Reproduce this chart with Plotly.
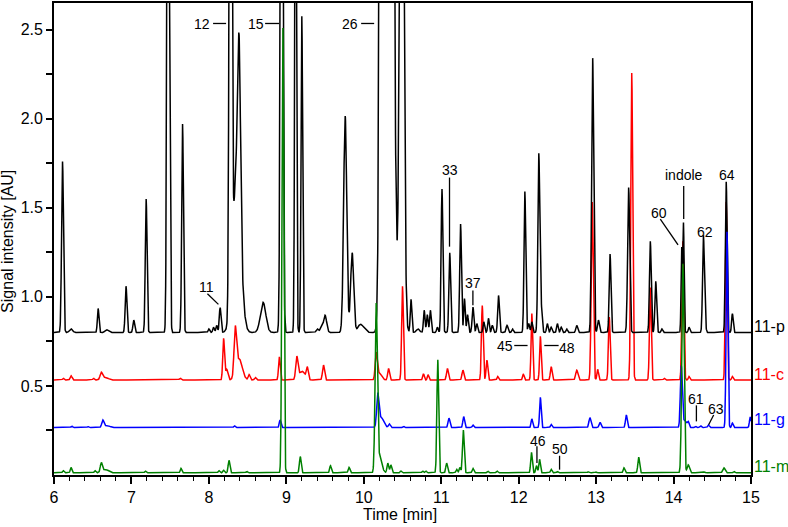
import numpy as np
import plotly.graph_objects as go

# peak tables: retention time [min], height above baseline [AU], peak sigma [min]
p_rt = [6.11, 6.22, 6.57, 6.68, 6.93, 7.03, 7.19, 7.47, 7.495, 7.66, 8.00, 8.06, 8.10, 8.145,
        8.28, 8.36, 8.39, 8.70, 8.94, 9.12, 9.20, 9.40, 9.45, 9.50, 9.76, 9.85, 9.95, 10.0,
        10.24, 10.34, 10.49, 10.61, 10.70, 10.78, 10.82, 10.86, 10.95, 11.01, 11.11, 11.25,
        11.30, 11.34, 11.41, 11.46, 11.55, 11.61, 11.66, 11.74, 11.85, 11.92, 12.08, 12.13,
        12.17, 12.26, 12.29, 12.37, 12.42, 12.50, 12.55, 12.62, 12.75, 12.955, 13.03, 13.18,
        13.42, 13.70, 13.77, 13.85, 14.105, 14.128, 14.20, 14.385, 14.405, 14.68, 14.76]
p_h = [0.96, 0.02, 0.135, 0.015, 0.26, 0.07, 0.75, 4.0, 1.1, 1.17, 0.02, 0.03, 0.04, 0.14,
       6.0, 0.9, 0.92, 0.17, 6.0, 4.0, 1.775, 0.02, 0.03, 0.097, 1.215, 0.447, 0.04, 0.02,
       8.0, 8.0, 4.0, 0.186, 0.02, 0.125, 0.10, 0.125, 0.03, 0.805, 0.447, 0.609,
       0.19, 0.10, 0.143, 0.05, 0.06, 0.08, 0.04, 0.208, 0.04, 0.02, 0.792, 0.05,
       0.06, 1.00, 0.15, 0.05, 0.03, 0.05, 0.03, 0.02, 0.04, 1.545, 0.07, 0.44,
       0.814, 0.512, 0.287, 0.02, 0.47, 0.61, 0.03, 0.531, 0.10, 0.846, 0.106]
p_w = [0.012, 0.02, 0.010, 0.02, 0.011, 0.011, 0.011, 0.012, 0.009, 0.011, 0.01, 0.01, 0.01, 0.011,
       0.014, 0.05, 0.018, 0.035, 0.014, 0.010, 0.010, 0.015, 0.015, 0.02, 0.02, 0.02, 0.03, 0.03,
       0.025, 0.035, 0.025, 0.010, 0.02, 0.01, 0.01, 0.01, 0.01, 0.011, 0.011, 0.011,
       0.01, 0.01, 0.011, 0.01, 0.01, 0.01, 0.01, 0.011, 0.012, 0.01, 0.011, 0.01,
       0.01, 0.012, 0.012, 0.01, 0.01, 0.01, 0.01, 0.01, 0.012, 0.013, 0.012, 0.011,
       0.013, 0.011, 0.011, 0.01, 0.008, 0.008, 0.01, 0.011, 0.01, 0.011, 0.01]

c_rt = [6.12, 6.22, 6.51, 6.61, 6.66, 7.63, 8.19, 8.23, 8.34, 8.39, 8.52, 8.60, 8.91, 9.135,
        9.20, 9.27, 9.48, 10.16, 10.20, 10.32, 10.50, 10.77, 10.83, 11.08, 11.28, 11.53, 11.59,
        11.73, 12.06, 12.17, 12.28, 12.42, 12.75, 12.95, 13.02, 13.17, 13.46, 13.70, 13.88,
        14.12, 14.20, 14.68, 14.76]
c_h = [0.01, 0.024, 0.01, 0.037, 0.015, 0.01, 0.233, 0.06, 0.25, 0.12, 0.03, 0.015, 0.13, 0.121,
       0.05, 0.065, 0.084, 0.14, 0.04, 0.065, 0.526, 0.035, 0.03, 0.065, 0.056, 0.419, 0.112,
       0.02, 0.034, 0.373, 0.246, 0.075, 0.056, 1.0, 0.06, 0.354, 1.724, 0.52, 0.01,
       0.78, 0.02, 1.0, 0.02]
c_w = [0.01, 0.012, 0.01, 0.015, 0.04, 0.012, 0.011, 0.015, 0.015, 0.04, 0.012, 0.012, 0.011, 0.014,
       0.04, 0.012, 0.013, 0.013, 0.03, 0.012, 0.011, 0.01, 0.01, 0.012, 0.012, 0.011, 0.011,
       0.01, 0.01, 0.01, 0.01, 0.011, 0.014, 0.013, 0.01, 0.011, 0.012, 0.011, 0.01,
       0.012, 0.01, 0.011, 0.01]

g_rt = [6.23, 6.44, 6.63, 6.68, 8.33, 8.92, 10.18, 10.22, 10.33, 10.51, 11.10, 11.29, 11.41,
        12.17, 12.28, 12.42, 12.92, 13.05, 13.39, 14.10, 14.14, 14.19, 14.28, 14.35, 14.45,
        14.69, 14.76, 14.99]
g_h = [0.008, 0.006, 0.038, 0.012, 0.01, 0.043, 0.165, 0.06, 0.02, 0.008, 0.053, 0.062, 0.014,
       0.049, 0.17, 0.018, 0.056, 0.03, 0.071, 0.332, 0.04, 0.025, 0.008, 0.01, 0.015,
       1.10, 0.025, 0.06]
g_w = [0.01, 0.01, 0.013, 0.04, 0.01, 0.011, 0.013, 0.035, 0.012, 0.01, 0.012, 0.011, 0.01,
       0.01, 0.01, 0.01, 0.013, 0.012, 0.011, 0.012, 0.03, 0.01, 0.01, 0.01, 0.01,
       0.011, 0.01, 0.01]

m_rt = [6.12, 6.22, 6.53, 6.61, 6.66, 7.18, 7.64, 8.13, 8.19, 8.26, 8.49, 8.955, 9.18, 9.57,
        9.81, 10.16, 10.20, 10.31, 10.35, 10.48, 10.76, 10.80, 10.955, 11.07, 11.20, 11.24,
        11.285, 11.41, 11.60, 11.72, 12.165, 12.23, 12.27, 12.42, 12.50, 12.90, 13.00, 13.36,
        13.55, 14.12, 14.19, 14.40, 14.65, 14.78]
m_h = [0.012, 0.03, 0.012, 0.05, 0.02, 0.01, 0.025, 0.012, 0.015, 0.07, 0.008, 2.506, 0.092, 0.04,
       0.031, 0.913, 0.1, 0.055, 0.045, 0.01, 0.01, 0.01, 0.637, 0.055, 0.02, 0.03,
       0.241, 0.025, 0.01, 0.01, 0.116, 0.04, 0.076, 0.02, 0.008, 0.006, 0.005, 0.028,
       0.088, 1.174, 0.045, 0.005, 0.028, 0.008]
m_w = [0.01, 0.01, 0.01, 0.012, 0.04, 0.01, 0.01, 0.01, 0.01, 0.011, 0.01, 0.012, 0.011, 0.011,
       0.011, 0.014, 0.03, 0.011, 0.011, 0.01, 0.01, 0.01, 0.011, 0.011, 0.01, 0.01,
       0.011, 0.011, 0.01, 0.01, 0.01, 0.01, 0.01, 0.01, 0.01, 0.01, 0.01, 0.011,
       0.011, 0.014, 0.015, 0.01, 0.015, 0.01]

names = ["11-c", "11-p", "11-g", "11-m"]
baselines = [0.533, 0.80, 0.266, 0.012]
colors = ["#ff0000", "#000000", "#0000ff", "#008000"]
tables = [(c_rt, c_h, c_w), (p_rt, p_h, p_w), (g_rt, g_h, g_w), (m_rt, m_h, m_w)]

t = np.arange(6.0, 15.0001, 0.002)


def chromatogram(rt, h, w, base):
    y = np.full_like(t, base)
    for r, a, s in zip(rt, h, w):
        y += a * np.exp(-0.5 * ((t - r) / s) ** 2)
    return y


fig = go.Figure()
for name, base, col, (rt, h, w) in zip(names, baselines, colors, tables):
    fig.add_trace(go.Scatter(x=t, y=chromatogram(rt, h, w, base), mode="lines", name=name,
                             line=dict(color=col, width=1.5), showlegend=False))

# peak labels: text, x, y
lab_text = ["12", "15", "26", "11", "33", "37", "45", "48", "46", "50", "60", "indole", "62", "64", "61", "63"]
lab_x = [7.912, 8.61, 9.824, 7.964, 11.112, 11.413, 11.827, 12.628, 12.244, 12.533, 13.817, 14.14, 14.407, 14.691, 14.295, 14.553]
lab_y = [2.53, 2.53, 2.53, 1.053, 1.711, 1.077, 0.725, 0.712, 0.192, 0.147, 1.471, 1.685, 1.362, 1.685, 0.425, 0.369]
# leader lines: x0, y0, x1, y1
lead = [(8.054, 2.535, 8.222, 2.535), (8.726, 2.535, 8.907, 2.535), (9.966, 2.535, 10.134, 2.535),
        (7.981, 1.018, 8.123, 0.958), (11.107, 1.670, 11.107, 1.282), (11.409, 1.036, 11.409, 0.953),
        (11.943, 0.727, 12.115, 0.727), (12.331, 0.727, 12.516, 0.727), (12.236, 0.161, 12.236, 0.068),
        (12.528, 0.108, 12.528, 0.030), (13.829, 1.437, 14.058, 1.292), (14.131, 1.623, 14.131, 1.437),
        (14.295, 0.391, 14.295, 0.301), (14.518, 0.337, 14.453, 0.282)]

for s, x, y in zip(lab_text, lab_x, lab_y):
    fig.add_annotation(x=x, y=y, text=s, showarrow=False, xanchor="center", yanchor="middle",
                       font=dict(size=14, color="black"))
for x0, y0, x1, y1 in lead:
    fig.add_shape(type="line", x0=x0, y0=y0, x1=x1, y1=y1, line=dict(color="black", width=1.3))

trace_lab_y = [0.567, 0.835, 0.309, 0.046]
for name, col, y in zip(names, colors, trace_lab_y):
    fig.add_annotation(x=1.002, xref="paper", y=y, yref="y", text=name, showarrow=False,
                       xanchor="left", yanchor="middle", font=dict(size=16, color=col))

fig.add_annotation(x=0.497, y=-0.084, xref="paper", yref="paper", text="Time [min]",
                   showarrow=False, xanchor="center", yanchor="middle", font=dict(size=16))
fig.add_annotation(x=-0.066, y=0.496, xref="paper", yref="paper", text="Signal intensity [AU]",
                   showarrow=False, textangle=-90, xanchor="center", yanchor="middle",
                   font=dict(size=16))

ytv = [0.25, 0.5, 0.75, 1.0, 1.25, 1.5, 1.75, 2.0, 2.25, 2.5]
ytt = ["", "0.5", "", "1.0", "", "1.5", "", "2.0", "", "2.5"]

fig.update_layout(
    width=788, height=527,
    margin=dict(l=54, r=37, t=1, b=52),
    plot_bgcolor="white", paper_bgcolor="white",
    font=dict(family="Liberation Sans, Arial, sans-serif", size=16, color="black"),
    xaxis=dict(range=[6, 15], tick0=6, dtick=1, ticks="outside", ticklen=7, tickwidth=1.5,
               tickcolor="black", showline=True, linecolor="black", linewidth=1.8, mirror=True,
               showgrid=False, zeroline=False, tickfont=dict(size=16),
               minor=dict(dtick=0.2, ticks="outside", ticklen=4, tickwidth=1.2, tickcolor="black")),
    yaxis=dict(range=[0, 2.65], tickmode="array", tickvals=ytv, ticktext=ytt, ticks="outside",
               ticklen=6, tickwidth=1.5, tickcolor="black", showline=True, linecolor="black",
               linewidth=1.8, mirror=True, showgrid=False, zeroline=False, tickfont=dict(size=16)),
)

fig.write_html("out.html", config={"displayModeBar": False},
               post_script="document.body.style.margin='0px';")
